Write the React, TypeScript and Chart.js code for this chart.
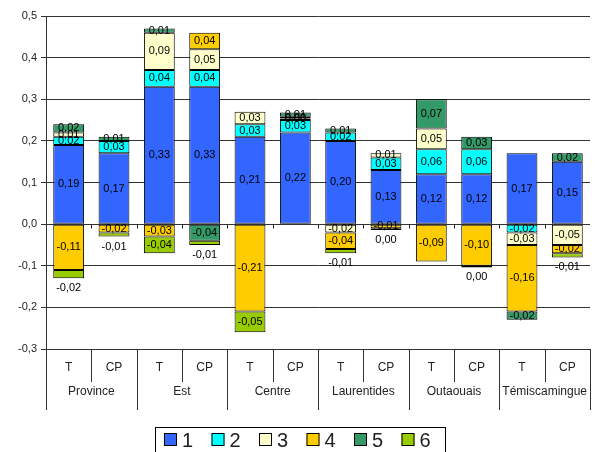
import React, { useEffect, useRef } from "react";
import { Chart, registerables } from "chart.js";

Chart.register(...registerables);

// Bars: each region has a T and a CP column
const groups = ["Province", "Est", "Centre", "Laurentides", "Outaouais", "Témiscamingue"];
const categories = ["T", "CP", "T", "CP", "T", "CP", "T", "CP", "T", "CP", "T", "CP"];

const seriesNames = ["1", "2", "3", "4", "5", "6"];
const seriesColors = ["#3366FF", "#00FFFF", "#FFFFCC", "#FFCC00", "#339966", "#99CC00"];

const s1 = [0.19, 0.17, 0.33, 0.33, 0.21, 0.22, 0.2, 0.13, 0.12, 0.12, 0.17, 0.15];
const s2 = [0.02, 0.03, 0.04, 0.04, 0.03, 0.03, 0.02, 0.03, 0.06, 0.06, -0.02, null];
const s3 = [0.01, null, 0.09, 0.05, 0.03, 0.004, -0.02, 0.01, 0.05, null, -0.03, -0.05];
const s4 = [-0.11, -0.02, -0.03, 0.04, -0.21, 0.004, -0.04, -0.01, -0.09, -0.1, -0.16, -0.02];
const s5 = [0.02, 0.01, 0.01, -0.04, null, 0.01, 0.01, null, 0.07, 0.03, -0.02, 0.02];
const s6 = [-0.02, -0.01, -0.04, -0.01, -0.05, null, -0.01, -0.004, null, -0.004, null, -0.01];

const seriesValues = [s1, s2, s3, s4, s5, s6];

const yTicks = [-0.3, -0.2, -0.1, 0, 0.1, 0.2, 0.3, 0.4, 0.5];

const FONT = '"Liberation Sans", Arial, sans-serif';
const fmt = (v: number) => {
  const r = Math.round(v * 100) / 100;
  return (r === 0 ? 0 : r).toFixed(2).replace(".", ",");
};

const overlay = {
  id: "overlay",
  afterDatasetsDraw(chart: any) {
    const ctx = chart.ctx;
    const area = chart.chartArea;
    const yScale = chart.scales.y;
    const n = categories.length;
    const cw = (area.right - area.left) / n;
    const y0 = Math.round(yScale.getPixelForValue(0)) + 0.5;

    ctx.save();
    ctx.strokeStyle = "#222";
    ctx.lineWidth = 1;

    // small tick marks on the zero line between columns
    for (let i = 1; i < n; i++) {
      const x = Math.round(area.left + i * cw) + 0.5;
      ctx.beginPath();
      ctx.moveTo(x, y0);
      ctx.lineTo(x, y0 + 4);
      ctx.stroke();
    }

    // lowest pixel of each column, used for labels set under the bar
    const lowest: number[] = categories.map(() => y0);
    chart.data.datasets.forEach((_ds: any, di: number) => {
      chart.getDatasetMeta(di).data.forEach((el: any, i: number) => {
        const { y, base } = el.getProps(["y", "base"], true);
        if (isFinite(y) && isFinite(base)) lowest[i] = Math.max(lowest[i], y, base);
      });
    });

    // value labels
    ctx.fillStyle = "#000";
    ctx.font = `11px ${FONT}`;
    ctx.textAlign = "center";
    ctx.textBaseline = "middle";
    chart.data.datasets.forEach((ds: any, di: number) => {
      const meta = chart.getDatasetMeta(di);
      meta.data.forEach((el: any, i: number) => {
        const v = ds.data[i];
        if (v === null || v === undefined) return;
        const { x, y, base } = el.getProps(["x", "y", "base"], true);
        let ly = (y + base) / 2;
        if (di === 5 && Math.abs(v) <= 0.02) {
          ly = lowest[i] + 10;
        }
        ctx.fillText(fmt(v), x, ly);
      });
    });

    // category table under the plot
    const top = area.bottom;
    ctx.strokeStyle = "#333";
    for (let i = 0; i <= n; i++) {
      const x = Math.round(area.left + i * cw) + 0.5;
      const bottom = i % 2 === 0 ? top + 61 : top + 33;
      ctx.beginPath();
      ctx.moveTo(x, top);
      ctx.lineTo(x, bottom);
      ctx.stroke();
    }
    ctx.fillStyle = "#222";
    ctx.font = `12px ${FONT}`;
    categories.forEach((c, i) => {
      ctx.fillText(c, area.left + (i + 0.5) * cw, top + 19);
    });
    groups.forEach((g, i) => {
      ctx.fillText(g, area.left + (i * 2 + 1) * cw, top + 43);
    });

    // legend
    const lx = 155.5, ly = 427.5, lw = 290, lh = 30;
    ctx.strokeStyle = "#000";
    ctx.strokeRect(lx, ly, lw, lh);
    ctx.font = `20px ${FONT}`;
    ctx.textAlign = "left";
    seriesNames.forEach((name, i) => {
      const sx = 164 + i * 47.5;
      const sy = 433;
      ctx.fillStyle = seriesColors[i];
      ctx.fillRect(sx, sy, 13, 13);
      ctx.strokeStyle = "#000";
      ctx.strokeRect(sx + 0.5, sy + 0.5, 12, 12);
      ctx.fillStyle = "#222";
      ctx.fillText(name, sx + 18, sy + 8);
    });
    ctx.restore();
  },
};

export default function App() {
  const ref = useRef<HTMLCanvasElement | null>(null);

  useEffect(() => {
    if (!ref.current) return;
    const chart = new Chart(ref.current, {
      type: "bar",
      data: {
        labels: categories,
        datasets: seriesValues.map((vals, i) => ({
          label: seriesNames[i],
          data: vals,
          backgroundColor: seriesColors[i],
          borderColor: "#000",
          borderWidth: 1,
          borderSkipped: false,
          barPercentage: 0.68,
          categoryPercentage: 1,
        })),
      },
      options: {
        responsive: false,
        animation: false,
        layout: { padding: { top: 16, right: 6, left: 0, bottom: 103 } },
        plugins: { legend: { display: false }, tooltip: { enabled: false } },
        scales: {
          x: { stacked: true, display: false },
          y: {
            stacked: true,
            min: -0.3,
            max: 0.5,
            afterBuildTicks: (s: any) => {
              s.ticks = yTicks.map((v) => ({ value: v }));
            },
            afterFit: (s: any) => {
              s.width = 46;
            },
            ticks: {
              color: "#222",
              font: { size: 11, family: FONT },
              padding: 4,
              callback: (v: any) => Number(v).toFixed(1).replace(".", ","),
            },
            grid: { color: "#333", tickLength: 5, lineWidth: 1 },
            border: { color: "#333" },
          },
        },
      },
      plugins: [overlay],
    });
    return () => chart.destroy();
  }, []);

  return (
    <div style={{ position: "fixed", left: 0, top: 0, width: 596, height: 452, background: "#fff" }}>
      <canvas ref={ref} width={596} height={452} />
    </div>
  );
}
